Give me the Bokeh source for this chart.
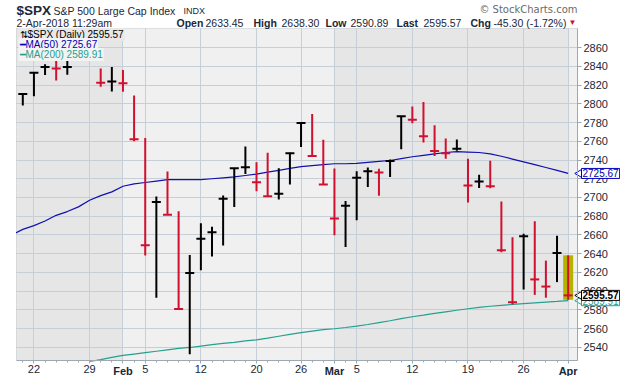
import numpy as np
from bokeh.plotting import figure
from bokeh.models import (Range1d, FixedTicker, Label, BoxAnnotation, LinearAxis, Grid)
from bokeh.embed import file_html
from bokeh.resources import INLINE

# ---------------- data ----------------
dates = ["2018-01-18", "2018-01-19", "2018-01-22", "2018-01-23", "2018-01-24", "2018-01-25",
         "2018-01-26", "2018-01-29", "2018-01-30", "2018-01-31", "2018-02-01", "2018-02-02",
         "2018-02-05", "2018-02-06", "2018-02-07", "2018-02-08", "2018-02-09", "2018-02-12",
         "2018-02-13", "2018-02-14", "2018-02-15", "2018-02-16", "2018-02-20", "2018-02-21",
         "2018-02-22", "2018-02-23", "2018-02-26", "2018-02-27", "2018-02-28", "2018-03-01",
         "2018-03-02", "2018-03-05", "2018-03-06", "2018-03-07", "2018-03-08", "2018-03-09",
         "2018-03-12", "2018-03-13", "2018-03-14", "2018-03-15", "2018-03-16", "2018-03-19",
         "2018-03-20", "2018-03-21", "2018-03-22", "2018-03-23", "2018-03-26", "2018-03-27",
         "2018-03-28", "2018-03-29", "2018-04-02"]
highs = [2805.83, 2810.33, 2833.03, 2842.24, 2852.97, 2848.56, 2872.87, 2870.62, 2837.75, 2839.26,
         2835.96, 2808.92, 2763.39, 2701.04, 2727.67, 2685.27, 2638.67, 2672.61, 2668.84, 2702.10,
         2731.51, 2754.42, 2737.60, 2747.75, 2731.26, 2747.76, 2780.64, 2789.15, 2761.52, 2730.89,
         2696.25, 2728.09, 2732.08, 2730.60, 2740.45, 2786.57, 2796.98, 2801.90, 2777.11, 2763.03,
         2761.85, 2741.38, 2724.22, 2739.14, 2695.68, 2657.67, 2661.36, 2674.78, 2632.65, 2659.07,
         2638.30]
lows = [2792.56, 2798.08, 2808.12, 2830.59, 2824.81, 2830.94, 2846.18, 2851.48, 2818.27, 2813.04,
        2812.70, 2759.97, 2638.17, 2593.07, 2681.33, 2580.56, 2532.69, 2622.45, 2637.08, 2648.87,
        2689.82, 2725.11, 2706.76, 2701.29, 2697.77, 2713.74, 2753.78, 2744.22, 2713.54, 2659.65,
        2647.32, 2675.75, 2711.26, 2701.74, 2721.99, 2751.54, 2779.26, 2758.68, 2744.38, 2741.47,
        2749.97, 2694.59, 2710.05, 2709.79, 2641.59, 2585.89, 2601.81, 2596.12, 2593.06, 2609.72,
        2590.89]
closes = [2798.03, 2810.30, 2832.97, 2839.13, 2837.54, 2839.25, 2872.87, 2853.53, 2822.43, 2823.81,
          2821.98, 2762.13, 2648.94, 2695.14, 2681.66, 2581.00, 2619.55, 2656.00, 2662.94, 2698.63,
          2731.20, 2732.22, 2716.26, 2701.33, 2703.96, 2747.30, 2779.60, 2744.28, 2713.83, 2677.67,
          2691.25, 2720.94, 2728.12, 2726.80, 2738.97, 2786.57, 2783.02, 2765.31, 2749.48, 2747.33,
          2752.01, 2712.92, 2716.94, 2711.93, 2643.69, 2588.26, 2658.55, 2612.62, 2605.00, 2640.87,
          2595.57]
ma50 = [2660, 2666, 2670, 2675, 2681, 2685, 2690, 2697, 2702, 2706,
        2712, 2714.5, 2716, 2717.5, 2719, 2719, 2719, 2719, 2720, 2721,
        2722, 2723.5, 2725, 2727, 2729, 2731, 2733, 2734, 2735, 2736,
        2736, 2736.5, 2737.5, 2738.5, 2739.5, 2741.5, 2743.5, 2745, 2746.5, 2748,
        2749, 2748.5, 2748, 2746.5, 2744, 2741, 2738, 2735, 2732, 2729,
        2725.67]
ma200 = [None, None, None, None, None, None, None, 2525, 2527, 2529.5,
         2531.5, 2533, 2534.5, 2536, 2537.5, 2539, 2540, 2541.5, 2543, 2544.3,
         2545.5, 2547, 2548.2, 2550, 2552, 2554, 2555.8, 2557.5, 2559, 2560,
         2561.3, 2562.7, 2564.5, 2566.5, 2568.5, 2570.7, 2572.8, 2574.5, 2576.3, 2578,
         2579.7, 2581.3, 2582.8, 2584, 2585, 2586, 2586.8, 2587.6, 2588.4, 2589.1,
         2589.91]
tick_dates = ["2018-01-22", "2018-01-29", "2018-02-01", "2018-02-05", "2018-02-12", "2018-02-20",
              "2018-02-26", "2018-03-01", "2018-03-05", "2018-03-12", "2018-03-19", "2018-03-26",
              "2018-04-02"]
tick_labels = ["22", "29", "Feb", "5", "12", "20", "26", "Mar", "5", "12", "19", "26", "Apr"]
month_labels = ["Feb", "Mar", "Apr"]
y_ticks = [2540, 2560, 2580, 2600, 2620, 2640, 2660, 2680, 2700, 2720, 2740, 2760, 2780, 2800,
           2820, 2840, 2860]
open_today = 2633.45
stamp = "2-Apr-2018 11:29am"

# ---------------- layout ----------------
W, H = 620, 376
PX_L, PX_R, PX_T, PX_B = 16, 577, 28, 360          # plot area in canvas pixels
X0, X1 = 0.434, 50.84                              # visible index range
Y0, Y1 = 2526.1, 2880.3                            # visible price range
xpu = (PX_R - PX_L) / (X1 - X0)
ypu = (PX_B - PX_T) / (Y1 - Y0)

TXT = "#1b2736"
GRID = "#c6ced8"
EDGE = "#9ea8b3"
RED = "#d0102f"
BLUE = "#1010b0"
TEAL = "#24a090"
FONT = "Liberation Sans"

xs = list(range(len(dates)))
colors = ["black"] + [RED if closes[i] < closes[i - 1] else "black" for i in range(1, len(closes))]
tick_pos = [dates.index(d) for d in tick_dates]
last = len(dates) - 1

xr = Range1d(X0 - PX_L / xpu, X1 + (W - PX_R) / xpu)
yr = Range1d(Y0 - (H - PX_B) / ypu, Y1 + PX_T / ypu)
p = figure(width=W, height=H, output_backend="svg", toolbar_location=None, tools="",
           x_range=xr, y_range=yr, x_axis_location=None, y_axis_location=None, min_border=0)
p.center = [c for c in p.center if not isinstance(c, Grid)]
p.background_fill_color = "white"
p.border_fill_color = "white"
p.outline_line_color = None

# plot area and month bands
p.add_layout(BoxAnnotation(left=X0, right=X1, bottom=Y0, top=Y1, fill_color="#f0f0f0",
                           fill_alpha=1, line_color=None, level="image"))
month_starts = [i for i in range(1, len(dates)) if dates[i][5:7] != dates[i - 1][5:7]]
bounds = [X0] + month_starts + [X1]
for k in range(len(bounds) - 1):
    if k % 2 == 0:
        p.add_layout(BoxAnnotation(left=bounds[k], right=bounds[k + 1], bottom=Y0, top=Y1,
                                   fill_color="#e6e6e6", fill_alpha=1, line_color=None,
                                   level="image"))

# grid lines
if "cross_bounds" in Grid.properties():
    p.add_layout(Grid(dimension=0, ticker=FixedTicker(ticks=tick_pos), cross_bounds=(Y0, Y1),
                      grid_line_color=GRID))
    p.add_layout(Grid(dimension=1, ticker=FixedTicker(ticks=y_ticks), cross_bounds=(X0, X1),
                      grid_line_color=GRID))
else:
    p.segment(x0=tick_pos, x1=tick_pos, y0=[Y0] * len(tick_pos), y1=[Y1] * len(tick_pos),
              line_color=GRID, line_width=1, level="underlay")
    p.segment(x0=[X0] * len(y_ticks), x1=[X1] * len(y_ticks), y0=y_ticks, y1=y_ticks,
              line_color=GRID, line_width=1, level="underlay")

# axes
xa = LinearAxis(fixed_location=Y0, bounds=(X0, X1),
                ticker=FixedTicker(ticks=tick_pos, minor_ticks=xs[1:]))
xa.major_label_overrides = {pos: ("" if lbl in month_labels else lbl)
                            for pos, lbl in zip(tick_pos, tick_labels)}
xa.major_label_text_font = FONT
xa.major_label_text_font_size = "11px"
xa.major_label_text_color = TXT
xa.axis_line_color = EDGE
xa.major_tick_line_color = EDGE
xa.minor_tick_line_color = EDGE
xa.major_tick_in = 0
xa.major_tick_out = 3
xa.minor_tick_in = 0
xa.minor_tick_out = 2
xa.major_label_standoff = 1
p.add_layout(xa, "below")

ya = LinearAxis(fixed_location=X1, bounds=(Y0, Y1), ticker=FixedTicker(ticks=y_ticks))
ya.major_label_text_font = FONT
ya.major_label_text_font_size = "11px"
ya.major_label_text_color = TXT
ya.axis_line_color = EDGE
ya.major_tick_line_color = EDGE
ya.major_tick_in = 0
ya.major_tick_out = 4
ya.major_label_standoff = 2
ya.minor_tick_line_color = None
p.add_layout(ya, "right")

# frame outline
p.add_layout(BoxAnnotation(left=X0, right=X1, bottom=Y0, top=Y1, fill_alpha=0,
                           line_color=EDGE, line_width=1, level="underlay"))

# highlight of the current bar
p.vbar(x=[xs[last]], width=0.9, bottom=[lows[last]], top=[highs[last]],
       fill_color="#b3b300", line_color=None)

# moving averages
p.line(xs, np.array(ma200, dtype=float), line_color=TEAL, line_width=1.2)
p.line(xs, np.array(ma50, dtype=float), line_color=BLUE, line_width=1.2)

# HLC bars (the first day only serves as the reference close)
p.segment(x0=xs[1:], y0=lows[1:], x1=xs[1:], y1=highs[1:], line_color=colors[1:], line_width=2)
p.scatter(xs[1:], closes[1:], marker="dash", size=9, line_color=colors[1:], line_width=2)

# white mask left of the plot area (hides the line part that runs past the border)
p.add_layout(BoxAnnotation(left=xr.start, right=X0 - 0.5 / xpu, bottom=yr.start, top=yr.end,
                           fill_color="white", fill_alpha=1, line_color=None))


def lab(text, X, Y, size="11px", color=TXT, bold=False, align="left", baseline="middle",
        font=FONT, **kw):
    p.add_layout(Label(x=X, y=H - Y, x_units="screen", y_units="screen", text=text,
                       text_font=font, text_font_size=size, text_color=color,
                       text_font_style="bold" if bold else "normal", text_align=align,
                       text_baseline=baseline, **kw))


# month labels on the x axis (bold)
for pos, lbl in zip(tick_pos, tick_labels):
    if lbl in month_labels:
        p.add_layout(Label(x=pos, y=Y0, y_offset=-4, text=lbl,
                           text_font=FONT, text_font_size="11px", text_font_style="bold",
                           text_color=TXT, text_align="center", text_baseline="top"))

# header
chg = closes[last] - closes[last - 1]
pct = chg / closes[last - 1] * 100
lab("$SPX", 16, 10, size="13.5px", bold=True)
lab("S&P 500 Large Cap Index", 53, 10, size="10.5px")
lab("INDX", 183, 10, size="9px")
lab("\u00a9 StockCharts.com", 577, 9, size="10px", color="#6a6a6a", align="right", font="DejaVu Sans")
lab(stamp, 16, 22, size="10.5px")
pieces = [("Open", True, 176), (f"{open_today:.2f}", False, 205),
          ("High", True, 253), (f"{highs[last]:.2f}", False, 281),
          ("Low", True, 325), (f"{lows[last]:.2f}", False, 350),
          ("Last", True, 396), (f"{closes[last]:.2f}", False, 423),
          ("Chg", True, 470), (f"{chg:.2f} ({pct:.2f}%)", False, 493)]
for t, b, X in pieces:
    lab(t, X, 22, size="10.5px", bold=b)
lab("\u25bc", 568, 22, size="8px", color=RED)

# legend
lab(f"\u21c5$SPX (Daily) {closes[last]:.2f}", 18, 34, size="10px", color="black",
    background_fill_color="#e8e8e8", padding=1)
lab(f"\u2501MA(50) {ma50[last]:.2f}", 18, 44, size="10px", color="#0000b4",
    background_fill_color="#f3f3f3", padding=1)
lab(f"\u2501MA(200) {ma200[last]:.2f}", 18, 54, size="10px", color=TEAL,
    background_fill_color="#f3f3f3", padding=1)


# value tags on the right axis
def tag(val, color, border, bold=False):
    p.scatter([X1 + 2.5 / xpu], [val], marker="triangle", angle=np.pi / 2, size=9,
              fill_color="white", line_color=border, line_width=1)
    p.add_layout(Label(x=X1 + 4 / xpu, y=val, text=f"{val:.2f}", text_font=FONT,
                       text_font_size="10px", text_color=color,
                       text_font_style="bold" if bold else "normal",
                       text_baseline="middle", background_fill_color="white",
                       border_line_color=border, padding=1))


tag(ma200[last], TEAL, TEAL)
tag(ma50[last], "#0000a0", "#0000c0")
tag(closes[last], "black", "black", bold=True)

open("out.html", "w").write(file_html(p, INLINE))
